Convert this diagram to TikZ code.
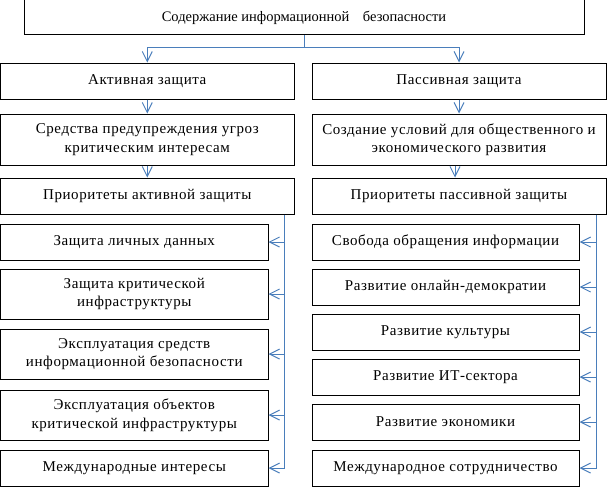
\documentclass[tikz,border=0pt]{standalone}
\usepackage{fontspec}
\setmainfont{Liberation Serif}
\newfontfamily\tnr[LetterSpace=4]{Liberation Serif}
\newfontfamily\tnrplain{Liberation Serif}
\usetikzlibrary{arrows.meta}
\definecolor{connblue}{RGB}{74,126,187}
\begin{document}
\begin{tikzpicture}[x=1pt,y=-1pt,
  box/.style={draw=black, line width=1pt, inner sep=0pt, align=center,
    font=\tnr\fontsize{15}{18.5}\selectfont},
  conn/.style={draw=connblue, line width=1pt},
  arr/.style={conn, -{Straight Barb[length=10pt,width=10pt,line width=1pt]}}]
\useasboundingbox (0,0) rectangle (607,487);
% top
\node[box, minimum width=560pt, minimum height=35pt, font=\tnrplain\fontsize{14.5}{18}\selectfont] (top) at (304,17.5) {\raisebox{1.5pt}{Содержание информационной\hspace{10pt} безопасности}};
% level 1
\node[box, minimum width=293.5pt, minimum height=36pt] (act) at (147.25,81) {Активная защита};
\node[box, minimum width=294pt, minimum height=36pt] (pas) at (459,81) {Пассивная защита};
% level 2
\node[box, minimum width=293.5pt, minimum height=51pt] (act2) at (147.25,139.5) {Средства предупреждения угроз\\критическим интересам};
\node[box, minimum width=294pt, minimum height=51pt] (pas2) at (459,139.5) {Создание условий для общественного и\\экономического развития};
% level 3
\node[box, minimum width=293.5pt, minimum height=36pt] (act3) at (147.25,196) {Приоритеты активной защиты};
\node[box, minimum width=294pt, minimum height=36pt] (pas3) at (459,196) {Приоритеты пассивной защиты};
% left list
\node[box, minimum width=267.5pt, minimum height=36pt] (l1) at (134.25,242) {Защита личных данных};
\node[box, minimum width=267.5pt, minimum height=50pt] (l2) at (134.25,294) {Защита критической\\инфраструктуры};
\node[box, minimum width=267.5pt, minimum height=50pt] (l3) at (134.25,354) {Эксплуатация средств\\информационной безопасности};
\node[box, minimum width=267.5pt, minimum height=50pt] (l4) at (134.25,415) {Эксплуатация объектов\\критической инфраструктуры};
\node[box, minimum width=267.5pt, minimum height=36pt] (l5) at (134.25,468) {Международные интересы};
% right list
\node[box, minimum width=267pt, minimum height=36pt] (r1) at (445.5,242) {Свобода обращения информации};
\node[box, minimum width=267pt, minimum height=36pt] (r2) at (445.5,287) {Развитие онлайн-демократии};
\node[box, minimum width=267pt, minimum height=36pt] (r3) at (445.5,332) {Развитие культуры};
\node[box, minimum width=267pt, minimum height=36pt] (r4) at (445.5,377) {Развитие ИТ-сектора};
\node[box, minimum width=267pt, minimum height=36pt] (r5) at (445.5,422) {Развитие экономики};
\node[box, minimum width=267pt, minimum height=36pt] (r6) at (445.5,468) {Международное сотрудничество};
% connectors top
\draw[arr] (top.south) -- ++(0,12) -| (act.north);
\draw[arr] (top.south) -- ++(0,12) -| (pas.north);
\draw[arr] (act.south) -- (act2.north);
\draw[arr] (pas.south) -- (pas2.north);
\draw[arr] (act2.south) -- (act3.north);
\draw[arr] ([xshift=-4pt]pas2.south) -- ([xshift=-4pt]pas3.north);
% left bus
\coordinate (lb) at ([xshift=-10pt]act3.south east);
\draw[arr] (lb) |- (l5.east);
\foreach \n in {l1,l2,l3,l4}{\draw[arr] (lb |- \n.east) -- (\n.east);}
% right bus
\coordinate (rb) at ([xshift=-10pt]pas3.south east);
\draw[arr] (rb) |- (r6.east);
\foreach \n in {r1,r2,r3,r4,r5}{\draw[arr] (rb |- \n.east) -- (\n.east);}
\end{tikzpicture}
\end{document}
